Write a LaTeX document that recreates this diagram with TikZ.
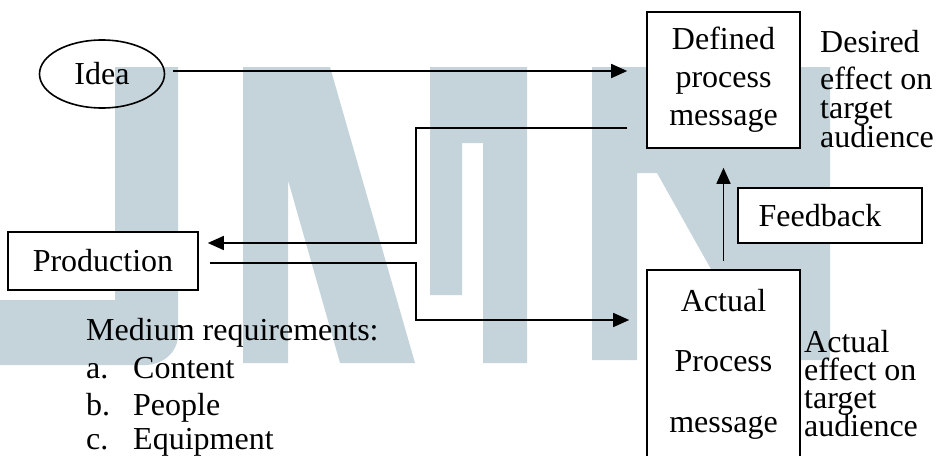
\documentclass[tikz,border=0pt]{standalone}
\usepackage{fontspec}
\setmainfont{Liberation Serif}
\usetikzlibrary{arrows.meta,shapes.geometric,calc}
\definecolor{wm}{RGB}{197,212,218}
\begin{document}
\begin{tikzpicture}[x=1pt,y=-1pt,
  font=\fontsize{32}{38}\selectfont,
  ln/.style={line width=1.6pt},
  arr/.style={ln,-{Triangle[length=16pt,width=14pt]}},
  box/.style={draw,line width=1.6pt,inner sep=0pt,align=center},
  lbl/.style={inner sep=0pt,anchor=base west}]
\useasboundingbox (0,0) rectangle (942,455);
% watermark
\fill[wm] (115,67) -- (178,67) -- (178,335) to[out=-90,in=0] (145,365) -- (0,365) -- (0,300) -- (115,300) -- cycle;
\fill[wm] (243,67) -- (330,67) -- (415,363) -- (340,363) -- (288,180) -- (288,363) -- (243,363) -- cycle;
\fill[wm] (430,67) -- (527,67) -- (527,363) -- (483,363) -- (483,143) -- (462,143) -- (462,295) -- (430,295) -- cycle;
\fill[wm] (592,67) -- (830,67) -- (830,360) -- (762,360) -- (657,173) -- (637,173) -- (637,360) -- (592,360) -- cycle;
% nodes
\node[draw,ellipse,line width=1.6pt,minimum width=125pt,minimum height=68pt,inner sep=0pt] (idea) at (102,74) {Idea};
\node[box,fill=white,minimum width=153pt,minimum height=136pt,font=\fontsize{32}{38}\selectfont] (defined) at (723.5,80) {Defined\\process\\message};
\node[box,fill=white,minimum width=153pt,minimum height=188pt,font=\fontsize{32}{60.5}\selectfont] (actual) at (723.5,364) {Actual\\Process\\message};
\node[box,fill=white,minimum width=184pt,minimum height=55pt] (feedback) at (830,215.5) {\hspace*{-20pt}Feedback};
\node[box,fill=white,minimum width=190pt,minimum height=58pt] (production) at (103,261) {Production};
% side texts
\node[lbl] (d1) at (820,52) {Desired};
\node[lbl] (d2) at (820,89) {effect on};
\node[lbl] (d3) at (820,118) {target};
\node[lbl] (d4) at (820,147) {audience};
\node[lbl] (a1) at (804,352) {Actual};
\node[lbl] (a2) at (804,380) {effect on};
\node[lbl] (a3) at (804,408) {target};
\node[lbl] (a4) at (804,436) {audience};
\node[lbl] (m0) at (86,340) {Medium requirements:};
\node[lbl] (m1) at (86,378) {a.};
\node[lbl] (m1t) at (133,378) {Content};
\node[lbl] (m2) at (86,415) {b.};
\node[lbl] (m2t) at (133,415) {People};
\node[lbl] (m3) at (86,449) {c.};
\node[lbl] (m3t) at (133,449) {Equipment};
% connectors
\coordinate (bend1) at (416,243);
\coordinate (bend2) at (416,320);
\draw[arr] ([xshift=8pt,yshift=3pt]idea.east) -- ([xshift=-19pt,yshift=9pt]defined.west);
\draw[arr] ([xshift=-19pt,yshift=-48pt]defined.west) -| (bend1) -- ([xshift=9pt,yshift=18pt]production.east);
\draw[arr] ([xshift=11pt,yshift=-2pt]production.east) -| (bend2) -- ($(bend2 -| actual.west)+(-17,0)$);
\draw[arr] ([yshift=8pt]actual.north) -- ([yshift=-19pt]defined.south);
\end{tikzpicture}
\end{document}
